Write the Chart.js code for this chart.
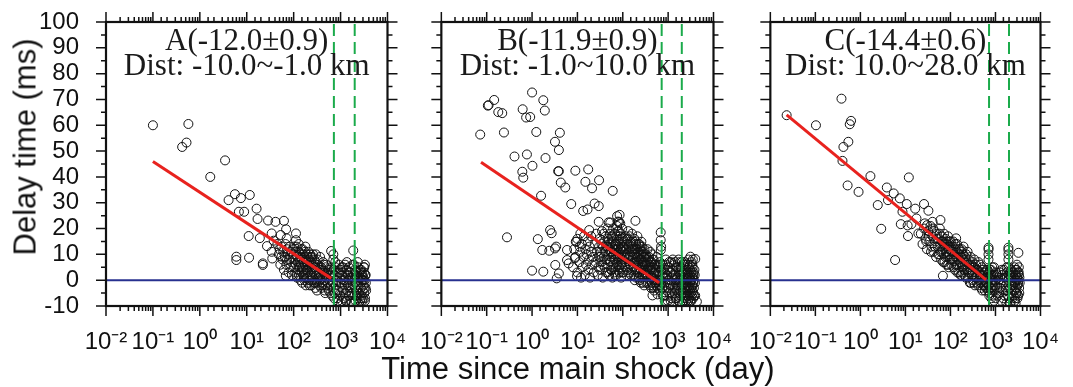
<!DOCTYPE html>
<html>
<head>
<meta charset="utf-8">
<script src="https://cdn.jsdelivr.net/npm/chart.js@4.4.1/dist/chart.umd.min.js"></script>
<style>
  html, body { margin: 0; padding: 0; background: #fff; }
  #wrap { position: relative; width: 1073px; height: 387px; overflow: hidden; }
  canvas { position: absolute; top: 0; }
  .axtitle {
    position: absolute; font: 31px 'Liberation Sans', Arial, sans-serif;
    line-height: 1; white-space: nowrap; color: #111;
  }
  #ytitle { left: 25px; top: 147px; transform: translate(-50%, -50%) rotate(-90deg); }
  #xtitle { left: 578px; top: 353px; transform: translateX(-50%); }
</style>
</head>
<body>
<div id="wrap">
  <canvas id="cA" width="420" height="387" style="left:0px"></canvas>
  <canvas id="cB" width="340" height="387" style="left:406px"></canvas>
  <canvas id="cC" width="338" height="387" style="left:735px"></canvas>
  <div id="ytitle" class="axtitle">Delay time (ms)</div>
  <div id="xtitle" class="axtitle">Time since main shock (day)</div>
</div>
<script>
// axes
const xMin = 0.01, xMax = 10000;
const yMin = -10, yMax = 100;
const markerDays = [720, 2000];   // green dashed lines

const panelNames = ['A(-12.0±0.9)', 'B(-11.9±0.9)', 'C(-14.4±0.6)'];
const panelDist = ['Dist: -10.0~-1.0 km', 'Dist: -1.0~10.0 km', 'Dist: 10.0~28.0 km'];

// fitted lines [day, ms]
const fitA = [[0.1, 46.0], [630, 0.7]];
const fitB = [[0.075, 45.7], [630, -1.0]];
const fitC = [[0.023, 64.0], [620, 0.1]];

// delay time [day, ms]
const pointsA = [
  [0.1,60],[0.57,60.5],[0.42,51.6],[0.52,53.3],[3.45,46.4],[1.67,40],[5.6,33.3],[4.1,31],[7.5,31.8],
  [11.6,33],[6.8,26.5],[8.8,26.5],[16.2,27.7],[17,23.7],[28.5,23.1],[41,22.6],[62,23],[69,19.7],
  [11,17.1],[19,16.3],[34,18.1],[37.5,15.3],[27,13.2],[34,11],[35,8.4],[6,9.1],[6,7.8],[11.2,8.7],
  [22,6.5],[22,5.9],[68,1.7],[53,17.5],[71,16.2],[112,18.1],[112,15.5],[55,9.1],[72,7.8],[630,11.3],[1860,11.5],
  [45,14],[48,10],[50,12],[52,6],[55,13],[58,8],[60,11],[62,4],[65,9],[67,14],[70,6],[72,12],[75,10],
  [78,3],[80,8],[82,13],[85,5],[88,11],[90,7],[92,2],[95,9],[98,12],[100,5],[100,10],
  [105,8],[108,3],[110,11],[112,6],[115,13],[118,1],[120,9],[122,4],[125,7],[128,11],[130,2],[132,8],
  [135,5],[138,10],[140,0],[142,6],[145,12],[148,3],[150,8],[152,-1],[155,5],[158,10],[160,2],[162,7],
  [165,4],[168,9],[170,0],[172,6],[175,11],[178,3],[180,8],[182,-2],[185,5],[188,10],[190,1],[192,7],
  [195,4],[198,9],[200,-1],[200,6],
  [205,3],[210,8],[215,0],[220,5],[225,10],[230,2],[235,7],[240,-2],[245,4],[250,9],[255,1],[260,6],
  [265,-1],[270,3],[275,8],[280,0],[285,5],[290,-3],[295,2],[300,7],[305,4],[310,-1],[320,6],[330,1],
  [340,3],[350,-2],[360,5],[370,0],[380,2],[390,-3],[400,4],
  [410,1],[420,-1],[430,3],[440,6],[450,0],[460,-4],[470,2],[480,5],[490,-2],[500,1],[520,3],[540,-1],
  [560,-4],[580,0],[600,2],[620,-2],[640,5],[660,-6],[680,1],[700,8],[700,10],[710,-3],[720,4],
  [102,13],[115,2],[128,14],[140,9],[155,12],[165,1],[178,13],[190,4],[205,11],[218,-2],[230,9],[245,0],
  [258,10],[270,5],[285,-1],[298,10],[315,-4],[325,8],[345,2],[365,9],[385,5],[405,-2],[425,7],[445,3],
  [470,-5],[495,6],[530,-3],[570,4],[610,-5],[650,3],[690,-1],
  [750,2],[760,-5],[780,5],[800,-2],[820,0],[850,-7],[870,3],[900,-4],[920,6],[950,1],[980,-6],[1000,-1],
  [1000,4],[1050,-8],[1080,2],[1100,-3],[1120,5],[1150,0],[1180,-7],[1200,3],[1220,-2],[1250,6],[1280,-5],
  [1300,1],[1330,-8],[1350,4],[1380,-1],[1400,-4],[1450,2],[1480,-6],[1500,5],[1520,0],[1550,-3],[1600,3],
  [1650,-8],[1700,1],[1750,-5],[1800,6],[1850,-2],[1900,-9],[1950,2],[2000,-6],[2000,4],[2050,-1],[2100,-8],
  [2150,3],[2200,-4],[2250,1],[2300,-7],[2350,5],[2400,-2],[2450,0],[2500,-5],[2550,3],[2600,-8],[2650,1],
  [2700,-3],[2750,4],[2800,-6],[2850,0],[2900,2],[2950,-4],[3000,-7],[3050,1],[3100,-2],[3150,3],[3200,-5],
  [3250,0],[3300,-8],[3350,2],[3400,-3],[3450,-1],[3300,6],[3500,-4],[3200,5],
  [730,-7],[770,7],[830,-4],[880,-8],[940,3],[1010,-9],[1060,5],[1140,-4],[1210,0],[1290,-8],[1360,7],
  [1430,-2],[1530,-6],[1620,3],[1720,-9],[1820,1],[1920,6],[2020,-3],[2120,2],[2220,-6],[2320,7],[2420,-9],
  [2520,1],[2620,4],[2720,-7],[2820,3],[2920,-8],[3020,0],[3120,5],[3220,-3],[3320,-7],[3420,2]
];

const pointsB = [
  [0.072,56.4],[0.106,67.6],[0.11,67.8],[0.146,69.8],[0.18,65.1],[0.22,64.7],[0.24,57.2],[0.28,16.6],
  [0.41,47.9],[0.62,66.2],[0.74,63],[0.91,63.2],[1.0,72.7],[1.24,57.4],[0.77,48.7],[0.61,42],[0.64,39.7],
  [1.02,44.3],[1.77,69.7],[1.91,65.7],[1.98,47.3],[1.58,32.7],[3.2,53.6],[4.1,57.1],[3.9,50.4],[3.76,42.2],
  [3.9,42.2],[4.3,37.8],[5.4,35.9],[9.0,42.4],[17.3,42.9],[15,38.1],[30,38.7],[60,34.6],[7.3,29.5],
  [23.9,29.7],[29.5,28.7],[13.4,26.8],[16.7,27.4],[1.34,15.9],[2.5,19.4],[2.7,18.2],[1.68,11.7],[2.4,11.4],
  [3.2,12.3],[3.4,13],[1.0,3.7],[1.77,3.3],[3.25,5.9],[3.5,0.7],[3.9,2.6],[6.4,6.5],[5.9,11.7],[9.5,14.9],
  [9.8,1.6],[11.6,18.1],[18.2,19.4],[29.5,22.6],[49,22.4],[75,24.8],[83,22.6],[190,23],[257,14.9],
  [452,-5.9],[584,-5.5],[686,18.5],[686,15.5],[690,11.7],[3100,9.1],[3960,8.2],[4300,-8.3],
  [21,35.6],[85,25.3],[78,22.7],[53,22.3],[9.2,14.9],[5.9,7.8],[11.2,13],[8.8,8.5],
  [8,5],[8.5,12],[9,9],[10,3],[10,16],[11,7],[11.5,11],[12,1],[12.5,14],[13,5],[13.5,9],[14,17],
  [14.5,2],[15,12],[15.5,6],[16,10],[17,15],[17.5,4],[18,8],[18.5,13],[19,1],[20,11],[20,17],[21,6],
  [22,9],[23,3],[24,14],[25,7],[26,18],[27,11],[28,2],[29,5],[30,13],[30,9],
  [31,16],[32,4],[33,11],[34,7],[35,19],[36,1],[37,13],[38,9],[39,15],[40,5],[41,11],[42,17],[43,3],
  [44,8],[45,13],[46,20],[47,6],[48,10],[49,15],[50,2],[51,12],[52,18],[53,7],[54,14],[55,4],[56,9],
  [57,16],[58,11],[59,1],[60,13],[61,20],[62,6],[63,10],[64,15],[65,3],[66,12],[67,18],[68,8],[69,14],
  [70,5],[71,10],[72,17],[73,2],[74,12],[75,21],[76,7],[77,15],[78,10],[79,4],[80,13],[81,19],[82,8],
  [83,11],[84,16],[85,3],[86,9],[87,14],[88,22],[89,6],[90,12],[91,18],[92,1],[93,10],[94,15],[95,5],
  [96,13],[97,20],[98,8],[99,11],[100,16],
  [104,3],[108,12],[112,7],[116,17],[120,10],[124,14],[128,4],[132,19],[136,9],[140,12],[144,6],[148,15],
  [152,2],[156,11],[160,18],[164,8],[168,13],[172,5],[176,10],[180,16],[184,0],[188,7],[192,12],[196,14],
  [200,4],[205,9],[210,17],[215,6],[220,11],[225,1],[230,14],[235,8],[240,3],[245,12],[250,-1],[255,10],
  [260,5],[265,13],[270,7],[275,2],[280,11],[285,4],[290,9],[295,-2],[300,12],[300,6],
  [310,3],[320,10],[330,-1],[340,7],[350,12],[360,2],[370,5],[380,9],[390,0],[400,11],[410,4],[420,-3],
  [430,7],[440,1],[450,10],[460,-2],[470,5],[480,8],[490,-4],[500,3],[520,6],[540,-1],[560,9],[580,2],
  [600,-3],[620,5],[640,0],[660,7],[680,-2],[700,4],[700,13],
  [32,9],[34,14],[36,6],[38,18],[41,8],[43,13],[46,3],[48,16],[51,8],[54,11],[57,4],[59,17],[62,12],
  [65,8],[68,2],[71,14],[74,6],[77,19],[80,9],[83,5],[86,17],[89,12],[92,7],[96,3],[102,13],[106,9],
  [110,15],[114,5],[118,12],[122,2],[126,16],[130,8],[134,13],[138,3],[142,17],[146,10],[150,6],[154,14],
  [158,4],[162,12],[166,9],[170,15],[174,2],[178,7],[182,12],[186,4],[190,10],[194,15],[198,1],[203,7],
  [208,12],[212,3],[218,9],[222,14],[228,5],[232,10],[238,0],[242,8],[248,13],[252,4],[258,8],[262,11],
  [268,1],[272,6],[278,10],[282,-1],[288,7],[292,3],[298,9],[315,6],[325,2],[335,9],[345,4],[355,-1],
  [365,8],[375,3],[385,6],[395,-2],[405,7],[415,1],[425,5],[435,-1],[445,4],[455,8],[465,1],[475,-3],
  [485,3],[495,6],[510,0],[530,4],[550,-2],[570,6],[590,0],[610,3],[630,-2],[650,2],[670,-4],[690,6],[690,0],
  [740,-3],[760,6],[780,1],[800,-6],[830,3],[860,-1],[890,8],[920,-4],[950,2],[980,-8],[1010,5],[1040,0],
  [1070,-5],[1100,3],[1130,-2],[1160,7],[1190,-7],[1220,1],[1250,-3],[1280,4],[1310,-9],[1340,0],[1370,6],
  [1400,-5],[1440,2],[1480,-1],[1520,5],[1560,-7],[1600,1],[1640,-3],[1680,4],[1720,-8],[1760,0],[1800,7],
  [1840,-4],[1880,2],[1920,-6],[1960,5],[2000,-2],[2050,-9],[2100,3],[2150,-5],[2200,1],[2250,6],[2300,-3],
  [2350,-7],[2400,2],[2450,-1],[2500,4],[2550,-6],[2600,0],[2650,-4],[2700,3],[2750,-8],[2800,1],[2850,5],
  [2900,-3],[2950,-6],[3000,2],[3050,-1],[3100,4],[3150,-5],[3200,0],[3250,-8],[3300,3],[3350,-2],[3400,6],
  [3450,-4],[3500,1],[3550,-7],[3600,2],[3700,-3],[3800,4],[3900,-1],[3950,-6],[3700,0],
  [750,2],[770,-6],[790,4],[810,-2],[840,-8],[870,6],[900,1],[930,-6],[960,4],[1000,-3],[1050,7],[1090,-1],
  [1140,-8],[1180,3],[1230,-5],[1270,8],[1320,2],[1380,-3],[1420,7],[1460,-7],[1500,0],[1540,-4],[1580,5],
  [1620,-2],[1700,8],[1740,-5],[1780,3],[1820,-9],[1860,5],[1900,-1],[1940,3],[2020,7],[2080,-4],[2130,0],
  [2180,-8],[2230,3],[2280,-1],[2330,7],[2380,-5],[2430,4],[2480,-8],[2530,1],[2580,-3],[2630,6],[2680,-6],
  [2730,2],[2780,-2],[2830,8],[2880,-7],[2930,1],[2980,-4],[3030,6],[3080,-8],[3130,0],[3180,3],[3230,-3],
  [3280,7],[3330,-6],[3380,1],[3430,-2],[3480,5],[3530,-5],[3580,-1],[3650,3],[3750,-6],[3850,2],[3500,8]
];

const pointsC = [
  [0.023,63.9],[0.103,60],[0.38,70.3],[0.62,61.7],[0.58,60.4],[0.54,53.6],[0.42,51.6],[0.40,46.2],
  [0.52,36.7],[0.91,34.2],[1.67,40.3],[2.43,29.1],[2.9,19.9],[3.86,35.9],[4.1,31],[5.5,33.6],[5.9,7.8],
  [7.5,31.7],[8.6,26.5],[7.9,21.7],[10.7,29.5],[11.9,39.8],[11.2,21.2],[11.4,17.1],[13.6,21.7],[16.5,27.7],
  [17.6,23.9],[19.4,18.1],[25.9,29.5],[32.4,26.9],[30.3,21.3],[40,22.6],[60,23.3],[68,1.7],[134,16.2],
  [701,12.6],[701,11.9],[1940,12.6],[1940,11.7],[3230,10.6],[2800,-9],[700,10],[1940,10],[700,8],[1940,8],
  [22,18],[24,14],[26,20],[28,16],[30,12],[32,19],[34,15],[36,21],[38,13],[40,17],[42,11],[44,19],
  [46,15],[48,9],[50,18],[52,13],[54,16],[56,10],[58,20],[60,14],[62,8],[64,17],[66,12],[68,15],[70,10],
  [72,18],[74,7],[76,13],[78,16],[80,11],[82,6],[84,14],[86,9],[88,17],[90,12],[92,5],[94,10],[96,15],
  [98,8],[100,13],[105,6],[110,11],[115,15],[120,8],[125,4],[130,12],[135,9],[140,14],[145,6],[150,10],
  [155,3],[160,12],[165,7],[170,9],[175,2],[180,11],[185,5],[190,8],[195,13],[200,4],[210,9],[220,1],
  [230,7],[240,11],[250,3],[260,6],[270,-1],[280,9],[290,4],[300,2],[310,7],[320,0],[330,5],[340,8],
  [350,-2],[360,3],[370,6],[380,1],[390,-1],[400,4],[420,7],[440,0],[460,2],[480,-3],[500,5],[520,1],
  [540,-2],[560,3],[580,-4],[600,1],[620,-1],[640,4],[660,-3],[680,2],
  [27,22],[29,15],[33,17],[37,11],[41,20],[45,13],[49,16],[53,10],[57,18],[61,11],[65,15],[69,7],[73,14],
  [77,9],[81,15],[85,11],[89,6],[93,13],[97,10],[102,15],[108,8],[113,13],[118,5],[123,10],[128,14],[133,6],
  [138,11],[143,3],[148,8],[153,12],[158,5],[163,10],[168,2],[173,7],[178,12],[183,3],[188,6],[193,10],
  [205,2],[215,6],[225,10],[235,4],[245,1],[255,8],[265,3],[275,5],[285,-1],[295,6],[315,3],[325,-1],
  [345,5],[365,1],[385,4],[410,-2],[430,3],[450,6],[470,-1],[490,2],[510,-4],[530,4],[550,0],[570,-2],
  [590,3],[610,-3],[630,1],[650,-1],[670,4],[690,-4],
  [700,-2],[720,3],[740,-5],[760,1],[780,-1],[800,4],[820,-3],[840,0],[860,-6],[880,2],[900,-2],[930,5],
  [960,-4],[990,0],[1020,-7],[1060,2],[1100,-3],[1150,1],[1200,-5],[1250,3],[1300,-1],[1350,-8],[1400,2],
  [1450,-4],[1500,0],[1550,4],[1600,-6],[1650,1],[1700,-2],[1750,-9],[1800,3],[1850,-4],[1900,0],[1950,5],
  [2000,-7],[2050,2],[2100,-3],[2150,-9],[2200,1],[2250,4],[2300,-5],[2350,0],[2400,-2],[2450,3],[2500,-6],
  [2550,1],[2600,-4],[2650,5],[2700,-1],[2750,-7],[2800,2],[2850,-3],[2900,0],[2950,4],[3000,-5],[3050,1],
  [3100,-2],[3150,3],[3200,-6],[3250,0],[3300,2],[3350,-3],[3400,1],[3450,-1],[3300,5],[3000,6],
  [710,1],[730,-6],[750,4],[770,-3],[790,2],[810,-7],[830,1],[850,5],[870,-4],[895,0],[920,-8],[950,2],
  [980,-2],[1040,3],[1120,-6],[1180,0],[1280,-3],[1380,4],[1480,-7],[1580,1],[1680,-4],[1780,5],[1880,-6],
  [1980,1],[2080,-9],[2180,3],[2280,-2],[2380,-7],[2480,2],[2580,-1],[2680,-8],[2780,4],[2880,-5],[2980,1],
  [3080,-7],[3180,-1],[3280,3],[3380,-5]
];

Chart.defaults.font.family = "'Liberation Sans', Arial, sans-serif";
Chart.defaults.color = '#111';

const supDigits = { '-': '\u207B', '0': '\u2070', '1': '\u00B9', '2': '\u00B2', '3': '\u00B3', '4': '\u2074' };

function isDecade(v) {
  const e = Math.log10(v);
  return Math.abs(e - Math.round(e)) < 1e-6;
}

function decadeLabel(v) {
  if (!isDecade(v)) return '';
  const e = String(Math.round(Math.log10(v)));
  return '10' + e.split('').map(c => supDigits[c]).join('');
}

// frame + ticks on all four sides (major long, minor short)
const frameTicks = {
  id: 'frameTicks',
  afterDraw(chart) {
    const { ctx, chartArea: a, scales: { x, y } } = chart;
    ctx.save();
    ctx.strokeStyle = '#111';
    ctx.lineWidth = 1.5;
    ctx.beginPath();
    x.ticks.forEach(t => {
      const px = x.getPixelForValue(t.value);
      const len = isDecade(t.value) ? 10 : 5;
      ctx.moveTo(px, a.bottom); ctx.lineTo(px, a.bottom + len);
      ctx.moveTo(px, a.top); ctx.lineTo(px, a.top - len);
    });
    y.ticks.forEach(t => {
      const py = y.getPixelForValue(t.value);
      const len = t.value % 10 === 0 ? 10 : 5;
      ctx.moveTo(a.left, py); ctx.lineTo(a.left - len, py);
      ctx.moveTo(a.right, py); ctx.lineTo(a.right + len, py);
    });
    ctx.stroke();
    ctx.lineWidth = 2.2;
    ctx.strokeRect(a.left, a.top, a.right - a.left, a.bottom - a.top);
    ctx.restore();
  }
};

function panelText(lines) {
  return {
    id: 'panelText',
    afterDatasetsDraw(chart) {
      const { ctx, chartArea: a } = chart;
      const cx = (a.left + a.right) / 2;
      ctx.save();
      ctx.font = "31px 'Liberation Serif', 'Times New Roman', serif";
      ctx.fillStyle = '#1a1a1a';
      ctx.textAlign = 'center';
      ctx.textBaseline = 'alphabetic';
      lines.forEach((s, i) => ctx.fillText(s, cx, a.top + 28 + i * 25));
      ctx.restore();
    }
  };
}

function lineSet(pairs, color, width, dash) {
  return {
    data: pairs.map(p => ({ x: p[0], y: p[1] })),
    showLine: true, pointRadius: 0, borderColor: color, borderWidth: width,
    borderDash: dash, backgroundColor: color
  };
}

function buildChart(id, points, fit, idx, o) {
  const datasets = [];
  markerDays.forEach(d => {
    datasets.push(lineSet([[d, yMin], [d, yMax]], '#1bab4b', 2, [12, 6]));
    datasets.push(lineSet([[d, yMin], [d, 11]], '#1bab4b', 2, []));
  });
  datasets.push(lineSet(fit, '#e8221e', 3, []));
  datasets.push(lineSet([[xMin, 0], [xMax, 0]], '#27318f', 2, []));
  datasets.push({
    data: points.map(p => ({ x: p[0], y: p[1] })),
    pointRadius: 4.5, borderWidth: 1, borderColor: '#111',
    backgroundColor: 'rgba(0,0,0,0)', showLine: false
  });

  return new Chart(document.getElementById(id), {
    type: 'scatter',
    data: { datasets },
    options: {
      responsive: false,
      animation: false,
      events: [],
      layout: { padding: { top: 22, right: o.padRight, bottom: 0, left: 0 } },
      plugins: { legend: { display: false }, tooltip: { enabled: false } },
      scales: {
        x: {
          type: 'logarithmic', min: xMin, max: xMax,
          grid: { display: false }, border: { display: false },
          ticks: {
            autoSkip: false, maxRotation: 0, minRotation: 0, padding: 14,
            font: { size: 24 }, color: '#111',
            callback: v => decadeLabel(v)
          },
          afterFit: s => { s.height = 81; }
        },
        y: {
          min: yMin, max: yMax,
          grid: { display: false }, border: { display: false },
          ticks: {
            display: !!o.yLabels, autoSkip: false, stepSize: 5, padding: 19,
            font: { size: 24 }, color: '#111',
            callback: v => (v % 10 === 0 ? String(v) : '')
          },
          afterFit: s => { s.width = o.yWidth; s.paddingTop = 0; s.paddingBottom = 0; }
        }
      }
    },
    plugins: [frameTicks, panelText([panelNames[idx], panelDist[idx]])]
  });
}

buildChart('cA', pointsA, fitA, 0, { padRight: 28, yWidth: 106, yLabels: true });
buildChart('cB', pointsB, fitB, 1, { padRight: 26, yWidth: 28 });
buildChart('cC', pointsC, fitC, 2, { padRight: 24, yWidth: 28 });
</script>
</body>
</html>
